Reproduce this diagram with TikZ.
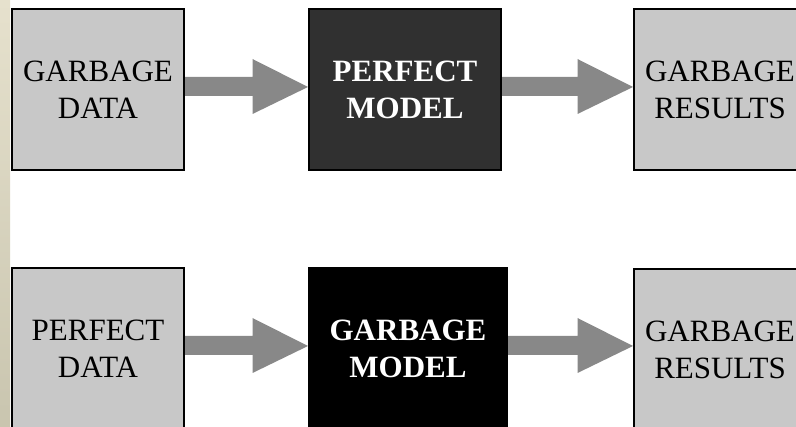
\documentclass[tikz,border=0pt]{standalone}
\usepackage{fontspec}
\setmainfont{Liberation Serif}
\usetikzlibrary{calc}
\definecolor{boxgray}{HTML}{C8C8C8}
\definecolor{arrgray}{HTML}{888888}
\definecolor{darkbox}{HTML}{303030}
\definecolor{stripTop}{HTML}{E6E1CD}
\definecolor{stripBot}{HTML}{C9C5AF}
\tikzset{
  blk/.style={draw=black, line width=2pt, minimum height=161pt, align=center,
    inner sep=0pt, font=\fontsize{31}{37}\selectfont},
  light/.style={blk, fill=boxgray, text=black, minimum width=172pt},
  dark/.style={blk, fill=darkbox, text=white, font=\fontsize{31}{37}\selectfont\bfseries},
  black box/.style={blk, fill=black, text=white, font=\fontsize{31}{37}\selectfont\bfseries},
  arr/.style={fill=arrgray},
  strip/.style={top color=stripTop, bottom color=stripBot, draw=none},
}
\newcommand\blockarrow[2]{%
  \fill[arr] let \p1=(#1.east), \p2=(#2.west) in
    (\x1,{\y1+12.5pt}) -- ({\x2-55.5pt},{\y1+12.5pt}) -- ({\x2-55.5pt},{\y1+30.5pt})
    -- (\x2,{\y1+2.5pt}) -- ({\x2-55.5pt},{\y1-24.5pt}) -- ({\x2-55.5pt},{\y1-6.5pt})
    -- (\x1,{\y1-6.5pt}) -- cycle;}
\begin{document}
\begin{tikzpicture}[x=1pt,y=-1pt]
  \useasboundingbox (0,0) rectangle (796,427);
  \fill[white] (0,0) rectangle (796,427);
  \shade[strip] (0,0) rectangle (10,427);
  % top row
  \node[light] (gd) at (98,89.5) {GARBAGE\\DATA};
  \node[dark, minimum width=192pt] (pm) at (405,89.5) {PERFECT\\MODEL};
  \node[light] (gr1) at (720,89.5) {GARBAGE\\RESULTS};
  % bottom row
  \node[light] (pd) at (98,348.5) {PERFECT\\DATA};
  \node[black box, minimum width=198pt] (gm) at (408,348.5) {GARBAGE\\MODEL};
  \node[light] (gr2) at (720,349.5) {GARBAGE\\RESULTS};
  % arrows
  \blockarrow{gd}{pm}
  \blockarrow{pm}{gr1}
  \blockarrow{pd}{gm}
  \blockarrow{gm}{gr2}
\end{tikzpicture}
\end{document}
